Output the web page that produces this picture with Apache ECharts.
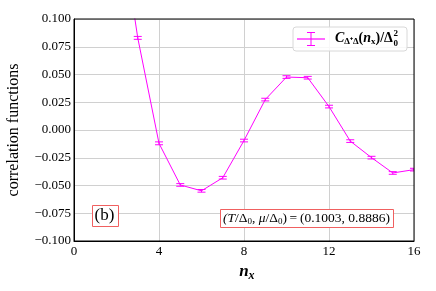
<!DOCTYPE html>
<html><head><meta charset="utf-8">
<script src="https://cdn.jsdelivr.net/npm/echarts@6/dist/echarts.min.js"></script>
<style>html,body{margin:0;padding:0;background:#fff}#c{width:436px;height:291px}</style>
</head><body><div id="c"></div>
<script>
const nx = [2, 3, 4, 5, 6, 7, 8, 9, 10, 11, 12, 13, 14, 15, 16];
const corr = [0.21, 0.083, -0.012, -0.0495, -0.0548, -0.043, -0.0095, 0.0274, 0.0477, 0.0471, 0.0211, -0.0100, -0.0249, -0.0387, -0.0357];
const err = [0.0015, 0.0013, 0.0013, 0.0012, 0.0012, 0.0012, 0.0012, 0.0012, 0.0012, 0.0012, 0.0012, 0.0012, 0.0012, 0.0012, 0.0012];
const xTicks = [0, 4, 8, 12, 16];
const yTicks = [-0.1, -0.075, -0.05, -0.025, 0, 0.025, 0.05, 0.075, 0.1];

const MAG = '#ff00ff';
const SERIF = 'Liberation Serif';
const chart = echarts.init(document.getElementById('c'));
const lineData = nx.map((x, i) => [x, corr[i]]);
const errData = nx.map((x, i) => [x, corr[i], err[i]]);

// measure legend text for placing stacked super/subscript
const mctx = document.createElement('canvas').getContext('2d');
function tw(font, s) { mctx.font = font; return mctx.measureText(s).width; }
const F_I = 'italic bold 14px "Liberation Serif"';
const F_N = 'bold 14px "Liberation Serif"';
const F_S = 'bold 9px "Liberation Serif"';
const legW = tw(F_I, 'C') + tw(F_S, 'Δ⁺Δ') + tw(F_N, '(') + tw(F_I, 'n') + tw(F_S, 'x') + tw(F_N, ')/Δ');
const legX = 335;

chart.setOption({
  animation: false,
  grid: {left: 74, right: 22, top: 19, bottom: 50, show: false, containLabel: false, outerBoundsMode: 'none'},
  xAxis: {
    type: 'value', min: xTicks[0], max: xTicks[xTicks.length - 1], interval: 4,
    name: 'n', nameLocation: 'middle', nameGap: 22,
    nameTextStyle: {fontFamily: SERIF, fontSize: 17, fontStyle: 'italic', fontWeight: 'bold', color: '#000'},
    axisLine: {show: true, onZero: false, lineStyle: {color: '#000', width: 1}},
    axisTick: {show: false},
    axisLabel: {fontFamily: SERIF, fontSize: 13, color: '#000', margin: 4},
    splitLine: {show: true, lineStyle: {color: '#d0d0d0', width: 1}}
  },
  yAxis: {
    type: 'value', min: yTicks[0], max: yTicks[yTicks.length - 1], interval: 0.025,
    name: 'correlation functions', nameLocation: 'middle', nameGap: 52,
    nameTextStyle: {fontFamily: SERIF, fontSize: 16, color: '#000'},
    axisLine: {show: true, onZero: false, lineStyle: {color: '#000', width: 1}},
    axisTick: {show: false},
    axisLabel: {fontFamily: SERIF, fontSize: 13, color: '#000', margin: 3,
      formatter: v => (v < 0 ? '\u2212' : '') + Math.abs(v).toFixed(3)},
    splitLine: {show: true, lineStyle: {color: '#d0d0d0', width: 1}}
  },
  series: [
    {type: 'line', data: lineData, symbol: 'none', lineStyle: {color: MAG, width: 1}, clip: true, z: 3},
    {type: 'custom', data: errData, clip: true, z: 4,
      renderItem: (params, api) => {
        const x = api.value(0), y = api.value(1), e = api.value(2);
        const hi = api.coord([x, y + e]), lo = api.coord([x, y - e]);
        const w = 4;
        const st = {stroke: MAG, lineWidth: 1};
        return {type: 'group', children: [
          {type: 'line', shape: {x1: hi[0], y1: hi[1], x2: lo[0], y2: lo[1]}, style: st},
          {type: 'line', shape: {x1: hi[0] - w, y1: hi[1], x2: hi[0] + w, y2: hi[1]}, style: st},
          {type: 'line', shape: {x1: lo[0] - w, y1: lo[1], x2: lo[0] + w, y2: lo[1]}, style: st}
        ]};
      }
    }
  ],
  graphic: [
    {type: 'rect', shape: {x: 74, y: 19, width: 340, height: 222}, style: {fill: 'none', stroke: '#000', lineWidth: 1}, z: 10, silent: true},
    // legend
    {type: 'rect', shape: {x: 293, y: 27, width: 114, height: 24, r: 3}, style: {fill: 'rgba(255,255,255,0.85)', stroke: '#d8d8d8', lineWidth: 1}, z: 20},
    {type: 'line', shape: {x1: 297, y1: 39, x2: 325, y2: 39}, style: {stroke: MAG, lineWidth: 1.2}, z: 21},
    {type: 'line', shape: {x1: 311, y1: 32.5, x2: 311, y2: 45.5}, style: {stroke: MAG, lineWidth: 1}, z: 21},
    {type: 'line', shape: {x1: 307, y1: 32.5, x2: 315, y2: 32.5}, style: {stroke: MAG, lineWidth: 1}, z: 21},
    {type: 'line', shape: {x1: 307, y1: 45.5, x2: 315, y2: 45.5}, style: {stroke: MAG, lineWidth: 1}, z: 21},
    {type: 'text', left: legX, top: 31, z: 21, style: {
      text: '{c|C}{s|Δ⁺Δ}{n|(}{c|n}{s|x}{n|)/Δ}',
      rich: {
        c: {fontFamily: SERIF, fontSize: 14, fontStyle: 'italic', fontWeight: 'bold', fill: '#000', verticalAlign: 'middle', lineHeight: 16},
        n: {fontFamily: SERIF, fontSize: 14, fontWeight: 'bold', fill: '#000', verticalAlign: 'middle', lineHeight: 16},
        s: {fontFamily: SERIF, fontSize: 9, fontWeight: 'bold', fill: '#000', verticalAlign: 'bottom', lineHeight: 16, padding: [6, 0, 0, 0]}
      }}},
    {type: 'text', left: legX + legW + 0.5, top: 29, z: 21, style: {text: '2', fontFamily: SERIF, fontSize: 9, fontWeight: 'bold', fill: '#000'}},
    {type: 'text', left: legX + legW + 0.5, top: 39, z: 21, style: {text: '0', fontFamily: SERIF, fontSize: 9, fontWeight: 'bold', fill: '#000'}},
    // annotations
    {type: 'rect', shape: {x: 92.5, y: 205.5, width: 26, height: 21}, style: {fill: '#fff', stroke: '#f06060', lineWidth: 1}, z: 20},
    {type: 'text', left: 94.5, top: 207.5, z: 21, style: {text: '(b)', fontFamily: SERIF, fontSize: 17, fill: '#000'}},
    {type: 'rect', shape: {x: 220.5, y: 209.5, width: 173, height: 18}, style: {fill: '#fff', stroke: '#f06060', lineWidth: 1}, z: 20},
    {type: 'text', left: 223, top: 211, z: 21, style: {
      text: '{i|(T}{n|/Δ}{s|0}{n|, }{i|μ}{n|/Δ}{s|0}{n|)\u2009=\u2009(0.1003, 0.8886)}',
      rich: {
        i: {fontFamily: SERIF, fontSize: 13.5, fontStyle: 'italic', fill: '#000', lineHeight: 16},
        n: {fontFamily: SERIF, fontSize: 13.5, fill: '#000', lineHeight: 16},
        s: {fontFamily: SERIF, fontSize: 9, fill: '#000', lineHeight: 16, verticalAlign: 'bottom', padding: [5, 0, 0, 0]}
      }}},
    {type: 'text', left: 248.5, top: 270, z: 21, style: {text: 'x', fontFamily: SERIF, fontSize: 12, fontStyle: 'italic', fontWeight: 'bold', fill: '#000'}}
  ]
});
</script></body></html>
